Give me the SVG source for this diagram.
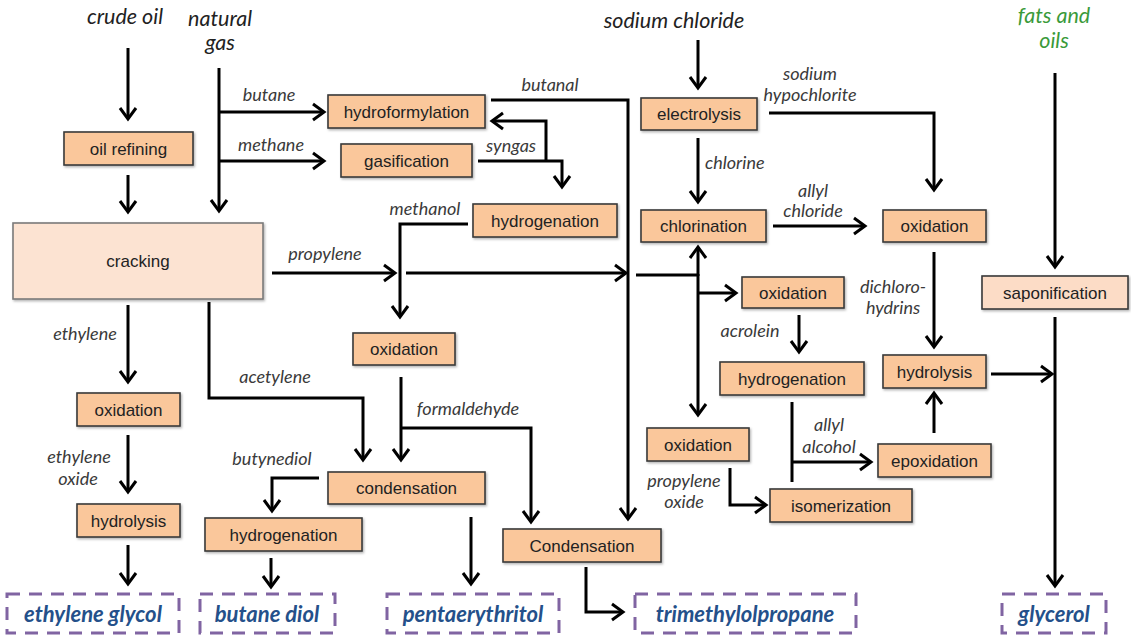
<svg xmlns="http://www.w3.org/2000/svg" width="1131" height="637" viewBox="0 0 1131 637">
  <style>
    .box { fill: #FAC79B; stroke: #3a3a3a; stroke-width: 1.6; filter: url(#soft); }
    .box-light { fill: #FCE3D2; stroke: #7a7a7a; stroke-width: 1.6; filter: url(#soft); }
    .box-sap { fill: #FCDCC6; stroke: #3a3a3a; stroke-width: 1.6; filter: url(#soft); }
    .term { fill: none; stroke: #8064A2; stroke-width: 3; stroke-dasharray: 13 9; }
    .btxt { font-family: "Liberation Sans", Arial, sans-serif; font-size: 17px; fill: #222; text-anchor: middle; }
    .lbl { font-family: Lato, "Open Sans", sans-serif; font-style: italic; font-size: 18px; fill: #3a3a3a; text-anchor: middle; }
    .src { font-family: Lato, "Open Sans", sans-serif; font-style: italic; font-size: 21.5px; fill: #222; text-anchor: middle; }
    .src-green { fill: #3A9A3A; }
    .ttxt { font-family: Lato, "Open Sans", sans-serif; font-style: italic; font-weight: bold; font-size: 22px; fill: #24508A; text-anchor: middle; }
    .wire { fill: none; stroke: #000; stroke-width: 3; }
    .arr { marker-end: url(#head); }
  </style>
  <defs>
    <filter id="soft" x="-10%" y="-20%" width="120%" height="150%">
      <feDropShadow dx="1.2" dy="1.5" stdDeviation="1.2" flood-color="#000" flood-opacity="0.3"/>
    </filter>
    <marker id="head" markerUnits="userSpaceOnUse" markerWidth="16" markerHeight="20" viewBox="0 0 16 20" refX="13" refY="10" orient="auto-start-reverse">
      <path d="M2,2 L13,10 L2,18" fill="none" stroke="#000" stroke-width="3" stroke-linejoin="miter"/>
    </marker>
  </defs>

  <!-- feedstock labels -->
  <g id="sources">
    <text class="src" x="125" y="24">crude oil</text>
    <text class="src" x="220" y="26">natural</text>
    <text class="src" x="220" y="50">gas</text>
    <text class="src" x="674" y="28">sodium chloride</text>
    <text class="src src-green" x="1054" y="23">fats and</text>
    <text class="src src-green" x="1054" y="48">oils</text>
  </g>

  <!-- connectors -->
  <g id="connectors">
    <path class="wire arr" d="M128,48 V119"/>
    <path class="wire arr" d="M128,175 V212"/>
    <path class="wire arr" d="M219,68 V211"/>
    <path class="wire arr" d="M219,112 H324"/>
    <path class="wire arr" d="M219,161 H324"/>
    <!-- butanal -->
    <path class="wire arr" d="M491,100 H628 V519"/>
    <!-- syngas -->
    <path class="wire arr" d="M478,161 H562 V187"/>
    <path class="wire arr" d="M546,161 V121 H492"/>
    <!-- methanol -->
    <path class="wire arr" d="M468,224 H400 V317"/>
    <!-- propylene -->
    <path class="wire arr" d="M272,273 H395"/>
    <path class="wire arr" d="M406,273 H626"/>
    <path class="wire" d="M636,275 H698"/>
    <path class="wire arr" d="M698,276 V247"/>
    <path class="wire arr" d="M698,274 V415"/>
    <path class="wire arr" d="M698,293 H736"/>
    <!-- chlorine branch -->
    <path class="wire arr" d="M698,40 V88"/>
    <path class="wire arr" d="M698,138 V202"/>
    <path class="wire arr" d="M769,113 H934 V190"/>
    <path class="wire arr" d="M773,226 H865"/>
    <path class="wire arr" d="M934,252 V347"/>
    <!-- glycerol column -->
    <path class="wire arr" d="M1055,73 V267"/>
    <path class="wire arr" d="M1055,317 V586"/>
    <path class="wire arr" d="M991,374 H1052"/>
    <!-- acrolein / allyl alcohol -->
    <path class="wire arr" d="M799,315 V352"/>
    <path class="wire" d="M792,402 V482"/>
    <path class="wire arr" d="M792,462 H871"/>
    <path class="wire arr" d="M934,433 V393"/>
    <path class="wire arr" d="M730,468 V505 H766"/>
    <!-- ethylene column -->
    <path class="wire arr" d="M128,305 V382"/>
    <path class="wire arr" d="M128,435 V492"/>
    <path class="wire arr" d="M128,545 V584"/>
    <!-- acetylene -->
    <path class="wire arr" d="M209,302 V398 H363 V460"/>
    <!-- formaldehyde -->
    <path class="wire arr" d="M401,377 V460"/>
    <path class="wire arr" d="M401,428 H531 V522"/>
    <!-- butynediol -->
    <path class="wire arr" d="M319,478 H272 V511"/>
    <path class="wire arr" d="M471,517 V584"/>
    <path class="wire arr" d="M271,558 V587"/>
    <path class="wire arr" d="M586,567 V612 H623"/>
  </g>

  <!-- connector labels -->
  <g id="labels">
    <text class="lbl" x="269" y="101">butane</text>
    <text class="lbl" x="271" y="151">methane</text>
    <text class="lbl" x="550" y="91">butanal</text>
    <text class="lbl" x="511" y="152">syngas</text>
    <text class="lbl" x="425" y="215">methanol</text>
    <text class="lbl" x="810" y="80">sodium</text>
    <text class="lbl" x="810" y="101">hypochlorite</text>
    <text class="lbl" x="705" y="169" style="text-anchor:start">chlorine</text>
    <text class="lbl" x="813" y="197">allyl</text>
    <text class="lbl" x="813" y="217">chloride</text>
    <text class="lbl" x="325" y="260">propylene</text>
    <text class="lbl" x="893" y="293">dichloro-</text>
    <text class="lbl" x="893" y="314">hydrins</text>
    <text class="lbl" x="750" y="337">acrolein</text>
    <text class="lbl" x="85" y="340">ethylene</text>
    <text class="lbl" x="275" y="383">acetylene</text>
    <text class="lbl" x="468" y="415">formaldehyde</text>
    <text class="lbl" x="829" y="431">allyl</text>
    <text class="lbl" x="829" y="453">alcohol</text>
    <text class="lbl" x="79" y="463">ethylene</text>
    <text class="lbl" x="78" y="485">oxide</text>
    <text class="lbl" x="272" y="465">butynediol</text>
    <text class="lbl" x="684" y="487">propylene</text>
    <text class="lbl" x="684" y="508">oxide</text>
  </g>

  <!-- process steps -->
  <g id="n-oil-refining"><rect class="box" x="64" y="132" width="129" height="33"/><text class="btxt" x="128.5" y="154.5">oil refining</text></g>
  <g id="n-cracking"><rect class="box-light" x="13" y="223" width="250" height="76"/><text class="btxt" x="138" y="267">cracking</text></g>
  <g id="n-hydroformylation"><rect class="box" x="328" y="95" width="157" height="33"/><text class="btxt" x="406.5" y="117.5">hydroformylation</text></g>
  <g id="n-gasification"><rect class="box" x="341" y="144" width="131" height="33"/><text class="btxt" x="406.5" y="166.5">gasification</text></g>
  <g id="n-hydrogenation-syngas"><rect class="box" x="473" y="204" width="144" height="33"/><text class="btxt" x="545" y="226.5">hydrogenation</text></g>
  <g id="n-electrolysis"><rect class="box" x="641" y="98" width="116" height="32"/><text class="btxt" x="699" y="120">electrolysis</text></g>
  <g id="n-chlorination"><rect class="box" x="641" y="210" width="125" height="32"/><text class="btxt" x="703.5" y="232">chlorination</text></g>
  <g id="n-oxidation-allyl"><rect class="box" x="883" y="210" width="103" height="32"/><text class="btxt" x="934.5" y="232">oxidation</text></g>
  <g id="n-oxidation-acrolein"><rect class="box" x="742" y="277" width="102" height="31"/><text class="btxt" x="793" y="298.5">oxidation</text></g>
  <g id="n-saponification"><rect class="box-sap" x="982" y="276" width="146" height="33"/><text class="btxt" x="1055" y="298.5">saponification</text></g>
  <g id="n-hydrogenation-acrolein"><rect class="box" x="720" y="362" width="144" height="33"/><text class="btxt" x="792" y="384.5">hydrogenation</text></g>
  <g id="n-hydrolysis-glycerol"><rect class="box" x="883" y="355" width="103" height="33"/><text class="btxt" x="934.5" y="377.5">hydrolysis</text></g>
  <g id="n-oxidation-ethylene"><rect class="box" x="77" y="393" width="103" height="33"/><text class="btxt" x="128.5" y="415.5">oxidation</text></g>
  <g id="n-oxidation-methanol"><rect class="box" x="353" y="333" width="102" height="32"/><text class="btxt" x="404" y="355">oxidation</text></g>
  <g id="n-oxidation-propylene"><rect class="box" x="647" y="428" width="102" height="33"/><text class="btxt" x="698" y="450.5">oxidation</text></g>
  <g id="n-hydrolysis-eo"><rect class="box" x="77" y="504" width="103" height="33"/><text class="btxt" x="128.5" y="526.5">hydrolysis</text></g>
  <g id="n-condensation"><rect class="box" x="328" y="472" width="157" height="32"/><text class="btxt" x="406.5" y="494">condensation</text></g>
  <g id="n-hydrogenation-butynediol"><rect class="box" x="205" y="518" width="157" height="33"/><text class="btxt" x="283.5" y="540.5">hydrogenation</text></g>
  <g id="n-condensation-butanal"><rect class="box" x="503" y="529" width="158" height="33"/><text class="btxt" x="582" y="551.5">Condensation</text></g>
  <g id="n-epoxidation"><rect class="box" x="878" y="444" width="113" height="33"/><text class="btxt" x="934.5" y="466.5">epoxidation</text></g>
  <g id="n-isomerization"><rect class="box" x="770" y="489" width="142" height="33"/><text class="btxt" x="841" y="511.5">isomerization</text></g>

  <!-- products -->
  <g id="p-ethylene-glycol"><rect class="term" x="7" y="594" width="172" height="39"/><text class="ttxt" x="93" y="622">ethylene glycol</text></g>
  <g id="p-butane-diol"><rect class="term" x="200" y="594" width="135" height="39"/><text class="ttxt" x="267" y="622">butane diol</text></g>
  <g id="p-pentaerythritol"><rect class="term" x="387" y="594" width="172" height="39"/><text class="ttxt" x="473" y="622">pentaerythritol</text></g>
  <g id="p-trimethylolpropane"><rect class="term" x="635" y="594" width="221" height="39"/><text class="ttxt" x="745" y="622">trimethylolpropane</text></g>
  <g id="p-glycerol"><rect class="term" x="1002" y="594" width="104" height="39"/><text class="ttxt" x="1054" y="622">glycerol</text></g>
</svg>
